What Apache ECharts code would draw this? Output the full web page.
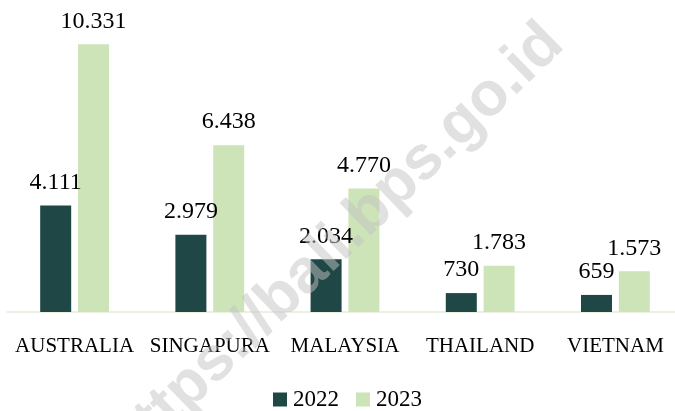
<!DOCTYPE html>
<html>
<head>
<meta charset="utf-8">
<script src="https://cdn.jsdelivr.net/npm/echarts@6/dist/echarts.min.js"></script>
<style>
html,body{margin:0;padding:0;background:#fff;}
#chart{width:675px;height:411px;}
</style>
</head>
<body>
<div id="chart"></div>
<script>
const categories = ['AUSTRALIA', 'SINGAPURA', 'MALAYSIA', 'THAILAND', 'VIETNAM'];
const seriesNames = ['2022', '2023'];
const values2022 = [4111, 2979, 2034, 730, 659];
const values2023 = [10331, 6438, 4770, 1783, 1573];
const watermarkText = 'https://bali.bps.go.id';

function fmt(v) {
  return String(v).replace(/\B(?=(\d{3})+(?!\d))/g, '.');
}

const chart = echarts.init(document.getElementById('chart'));
const serif = '"Liberation Serif", "DejaVu Serif", serif';
const labelCfg = {
  show: true,
  position: 'top',
  distance: 11,
  fontFamily: serif,
  fontSize: 24,
  color: '#000',
  formatter: p => fmt(p.value)
};
chart.setOption({
  animation: false,
  backgroundColor: '#fff',
  grid: { left: 7, width: 676, top: 27, bottom: 99, containLabel: false, outerBoundsMode: 'none' },
  legend: {
    data: seriesNames,
    left: 268,
    top: 383,
    itemWidth: 14,
    itemHeight: 14,
    itemGap: 17,
    icon: 'rect',
    textStyle: { fontFamily: serif, fontSize: 23, color: '#000', padding: [0, 0, 0, 1] }
  },
  xAxis: {
    type: 'category',
    data: categories,
    axisLine: { show: true, lineStyle: { color: '#e3ebdb', width: 1.5 } },
    axisTick: { show: false },
    axisLabel: { fontFamily: serif, fontSize: 21, color: '#000', margin: 24, interval: 0 }
  },
  yAxis: {
    type: 'value',
    min: 0,
    max: 11000,
    show: false,
    splitLine: { show: false }
  },
  series: [
    {
      name: seriesNames[0],
      type: 'bar',
      data: values2022,
      barWidth: 31,
      barGap: '22%',
      itemStyle: { color: '#1f4745' },
      label: labelCfg
    },
    {
      name: seriesNames[1],
      type: 'bar',
      data: values2023,
      barWidth: 31,
      barGap: '22%',
      itemStyle: { color: '#cde3b8' },
      label: labelCfg
    }
  ],
  graphic: [
    {
      type: 'text',
      x: 336,
      y: 245,
      rotation: 44 * Math.PI / 180,
      z: 100,
      style: {
        text: watermarkText,
        font: 'bold 62px "Liberation Sans", Arial, sans-serif',
        fill: 'rgba(195,195,195,0.5)',
        align: 'center',
        verticalAlign: 'middle'
      }
    }
  ]
});
</script>
</body>
</html>
